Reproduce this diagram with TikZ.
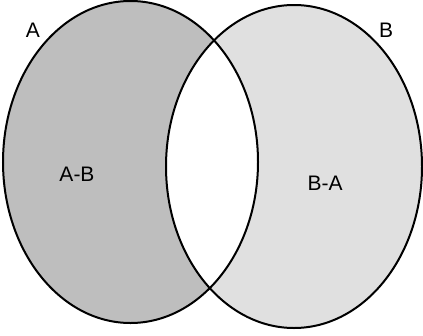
\documentclass[tikz,border=0pt]{standalone}
\usepackage{fontspec}
\setmainfont{Liberation Sans}
\usetikzlibrary{positioning}
\definecolor{setagray}{HTML}{BEBEBE}
\definecolor{setbgray}{HTML}{E0E0E0}

\begin{document}
\begin{tikzpicture}[x=1pt, y=-1pt, font=\fontsize{21}{24}\selectfont]
  \useasboundingbox (0,0) rectangle (423,335);
  \coordinate (ca) at (130.5,162);
  \coordinate (cb) at (294,166.5);
  % the two sets, the common part left white
  \fill[setagray] (ca) ellipse [x radius=127.5, y radius=161];
  \fill[setbgray] (cb) ellipse [x radius=128, y radius=161.5];
  \begin{scope}
    \clip (ca) ellipse [x radius=127.5, y radius=161];
    \fill[white] (cb) ellipse [x radius=128, y radius=161.5];
  \end{scope}
  \draw[line width=2pt] (ca) ellipse [x radius=127.5, y radius=161];
  \draw[line width=2pt] (cb) ellipse [x radius=128, y radius=161.5];
  % labels
  \node (labA) at (33,30) {A};
  \node (labB) at (386,30) {B};
  \node (labAB) at (77,174) {A-B};
  \node (labBA) at (325,183) {B-A};
\end{tikzpicture}
\end{document}
